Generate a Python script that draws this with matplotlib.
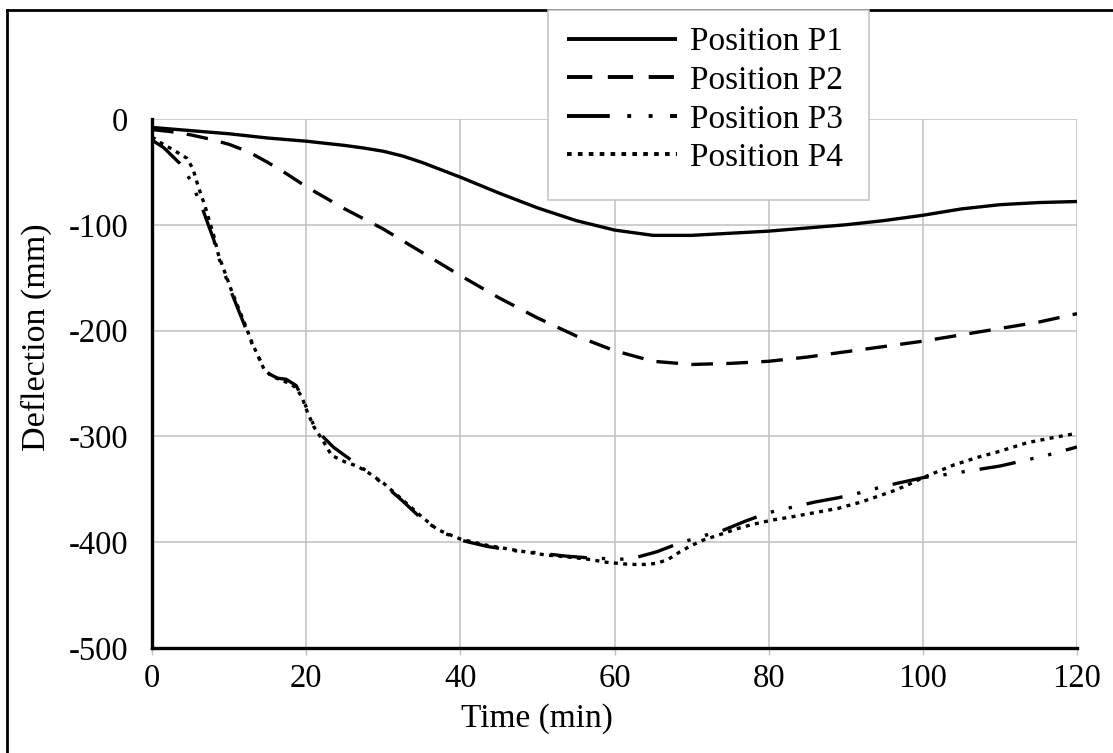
import matplotlib
matplotlib.use('Agg')
import matplotlib.pyplot as plt
from matplotlib.lines import Line2D
from matplotlib.patches import Rectangle

plt.rcParams['font.family'] = ['Liberation Serif', 'DejaVu Serif']
plt.rcParams['axes.unicode_minus'] = False

# deflection data (time in min, deflection in mm)
t_p1 = [0, 5, 10, 15, 20, 25, 27.5, 30, 32.5, 35, 37.5, 40, 45, 50, 55, 60, 65, 70, 75, 80, 85, 90, 95, 100, 105, 110, 115, 120]
p1 = [-8, -11, -14, -18, -21, -25, -27.5, -30.5, -35, -41, -48, -55, -70, -84, -96, -105, -110, -110, -108, -106, -103, -100, -96, -91, -85, -81, -79, -78]

t_p2 = [0, 2.5, 5, 7.5, 10, 12.5, 15, 17.5, 20, 25, 30, 35, 40, 45, 50, 55, 60, 65, 70, 75, 80, 85, 90, 95, 100, 105, 110, 115, 120]
p2 = [-10, -12, -15, -19, -24, -31, -41, -52, -64, -85, -104, -126, -148, -169, -188, -205, -219, -229, -232, -231, -229, -225, -220, -215, -210, -204, -198, -192, -184]

t_p3 = [0, 1.5, 3.6, 5, 6.5, 8, 8.6, 10.3, 12, 13, 14.5, 15.2, 16.3, 17.4, 18.7, 19.4, 20.1, 21, 22, 23.5, 25, 27.5,
        30, 32.5, 35, 37.5, 40, 43.5, 47, 50, 53.5, 57, 61, 63, 65.5, 68, 71, 74, 77, 80, 83, 86, 89, 92, 95, 97.5,
        100, 103, 106.5, 110, 113, 116, 120]
p3 = [-20, -27, -42, -58, -84, -114, -130, -164, -195, -213, -235, -241, -245, -246, -252, -262, -274, -290, -299, -310, -318, -331,
      -345, -361, -378, -390, -398, -404, -408, -410, -413, -415, -416, -414, -409, -402, -395, -389, -380, -372, -367, -362, -358, -353, -347, -343,
      -339, -336, -332, -328, -323, -318, -310]

t_p4 = [0, 1, 2.7, 4.5, 5.3, 6, 6.9, 8, 8.6, 10.3, 12, 13, 14.5, 15.5, 16.5, 17.5, 18.5, 19.4, 20.1, 21, 22, 23.3, 25, 26.6,
        28, 30, 32.5, 35, 37, 40, 43.5, 47.5, 51, 54, 56.5, 59, 62, 64, 65.5, 67, 68.5, 70, 71.5, 74, 76, 78, 80.5,
        83, 86, 89, 92, 94, 96, 98, 100, 102, 104, 107, 110, 113.5, 117, 120]
p4 = [-17, -22, -29, -37, -47, -64, -83, -110, -128, -162, -193, -212, -236, -243, -246, -249, -253, -262, -276, -291, -302, -318, -324, -328,
      -334, -344, -360, -376, -388, -397, -403, -408, -412, -414, -416, -419, -421, -421, -420, -416, -409, -403, -398, -392, -387, -383, -379,
      -376, -372, -368, -362, -357, -352, -346, -339, -333, -327, -320, -314, -306, -301, -297]

labels = ['Position P1', 'Position P2', 'Position P3', 'Position P4']
x_ticks = [0, 20, 40, 60, 80, 100, 120]
y_ticks = [0, -100, -200, -300, -400, -500]

fig = plt.figure(figsize=(11.13, 7.53), dpi=100)
ax = fig.add_axes([0.1366, 0.1394, 0.9677 - 0.1366, 0.842 - 0.1394])

lw = 2.4
l1, = ax.plot(t_p1, p1, color='black', lw=lw, solid_capstyle='butt', solid_joinstyle='round')
l2, = ax.plot(t_p2, p2, color='black', lw=lw, dashes=(6.5, 4))
l3, = ax.plot(t_p3, p3, color='black', lw=lw, dashes=(11, 4.5, 1, 4.5, 1, 4.5))
l4, = ax.plot(t_p4, p4, color='black', lw=lw, dashes=(1.2, 1.6))

ax.set_xlim(0, 120)
ax.set_ylim(-500, 0)
ax.set_xticks(x_ticks)
ax.set_yticks(y_ticks)
ax.set_xticklabels([str(v) for v in x_ticks])
ax.set_yticklabels([str(v) for v in y_ticks])
ax.grid(True, color='#c0c0c0', lw=1.1)
ax.set_axisbelow(True)
for s in ['top', 'right']:
    ax.spines[s].set_visible(False)
for s in ['left', 'bottom']:
    ax.spines[s].set_linewidth(2.4)
    ax.spines[s].set_zorder(3)
ax.tick_params(axis='x', length=5, width=1, color='#c0c0c0', labelsize=23.5, pad=6)
ax.tick_params(axis='y', length=0, labelsize=23.5, pad=17)

ax.set_xlabel('Time (min)', fontsize=24)
ax.xaxis.set_label_coords(0.416, -0.104)
ax.set_ylabel('Deflection (mm)', fontsize=24.5)
ax.yaxis.set_label_coords(-0.108, 0.588)

# legend box and entries
fig.patches.append(Rectangle((548 / 1113, 1 - 200 / 753), (869 - 548) / 1113, (200 - 10) / 753,
                             transform=fig.transFigure, facecolor='white', edgecolor='#c0c0c0',
                             lw=1.1, zorder=3))
leg = fig.legend([l1, l2, l3, l4], labels, loc='upper left', bbox_to_anchor=(567 / 1113, 1 - 27 / 753),
                 frameon=False, fontsize=24, handlelength=3.3, handletextpad=0.4, labelspacing=0.24,
                 borderpad=0, borderaxespad=0)
for h in leg.get_lines():
    h.set_linewidth(2.8)

# outer border (left and top visible)
fig.add_artist(Line2D([7 / 1113, 7 / 1113], [0, 1 - 10 / 753], transform=fig.transFigure, color='black', lw=2))
fig.add_artist(Line2D([7 / 1113, 1], [1 - 10 / 753, 1 - 10 / 753], transform=fig.transFigure, color='black', lw=2))

fig.savefig('out.png', dpi=100)
